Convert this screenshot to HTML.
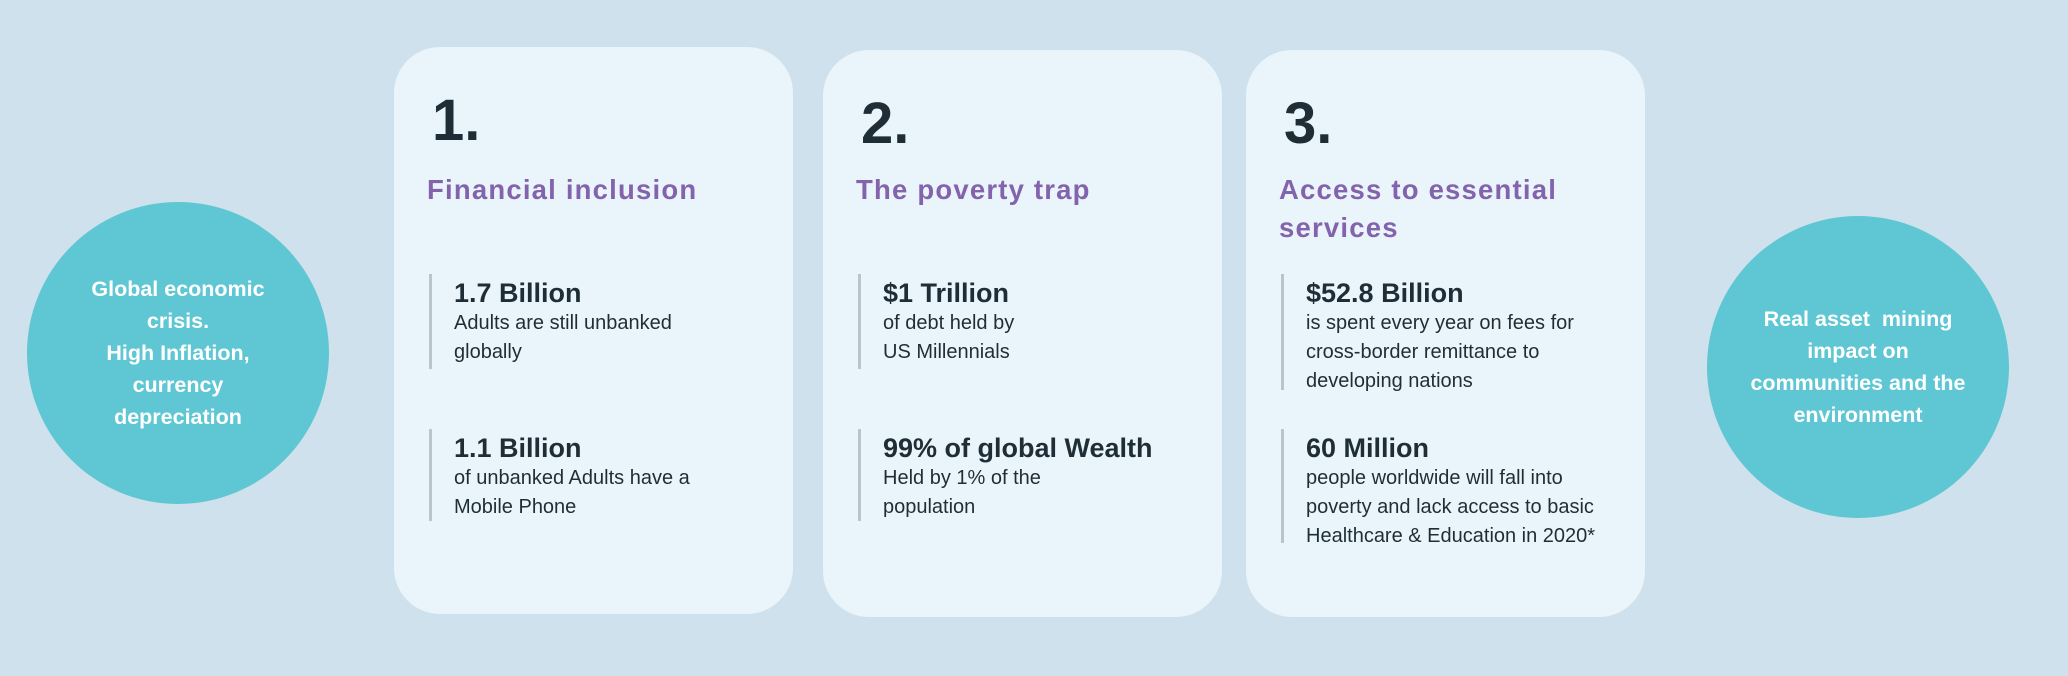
<!DOCTYPE html>
<html><head><style>
*{margin:0;padding:0;box-sizing:border-box}
body{width:2068px;height:676px;background:#cfe1ec;position:relative;overflow:hidden;font-family:"Liberation Sans",sans-serif;color:#1f2d36}
.circ{position:absolute;width:302px;height:302px;border-radius:50%;background:#5fc7d3;color:#fff;font-weight:bold;font-size:21.5px;line-height:32px;text-align:center;display:flex;align-items:center;justify-content:center}
.card{position:absolute;background:#eaf5fb;border-radius:46px;width:399px;height:567px}
.num{position:absolute;left:38px;top:45px;font-size:58px;font-weight:bold;line-height:1;color:#1f2d36}
.ttl{position:absolute;left:33px;top:125px;font-size:27.5px;font-weight:bold;color:#8463ad;letter-spacing:1.2px;line-height:38px}
.st{position:absolute;left:35px;border-left:3px solid #b9c4cb;padding-left:22px}
.st b{display:block;font-size:27px;line-height:30px;margin-top:4px}
.st span{display:block;font-size:20px;line-height:29px;margin-top:1px}
</style></head><body>
<div class="circ" style="left:27px;top:202px">Global economic<br>crisis.<br>High Inflation,<br>currency<br>depreciation</div>
<div class="circ" style="left:1707px;top:216px">Real asset&nbsp; mining<br>impact on<br>communities and the<br>environment</div>

<div class="card" style="left:394px;top:47px">
<div class="num">1.</div>
<div class="ttl" style="top:124px">Financial inclusion</div>
<div class="st" style="top:227px;height:95px"><b>1.7 Billion</b><span>Adults are still unbanked<br>globally</span></div>
<div class="st" style="top:382px;height:92px"><b>1.1 Billion</b><span>of unbanked Adults have a<br>Mobile Phone</span></div>
</div>

<div class="card" style="left:823px;top:50px">
<div class="num">2.</div>
<div class="ttl" style="top:121px">The poverty trap</div>
<div class="st" style="top:224px;height:95px"><b>$1 Trillion</b><span>of debt held by<br>US Millennials</span></div>
<div class="st" style="top:379px;height:92px"><b>99% of global Wealth</b><span>Held by 1% of the<br>population</span></div>
</div>

<div class="card" style="left:1246px;top:50px">
<div class="num">3.</div>
<div class="ttl" style="top:121px">Access to essential<br>services</div>
<div class="st" style="top:224px;height:116px"><b>$52.8 Billion</b><span>is spent every year on fees for<br>cross-border remittance to<br>developing nations</span></div>
<div class="st" style="top:379px;height:114px"><b>60 Million</b><span>people worldwide will fall into<br>poverty and lack access to basic<br>Healthcare &amp; Education in 2020*</span></div>
</div>
</body></html>
